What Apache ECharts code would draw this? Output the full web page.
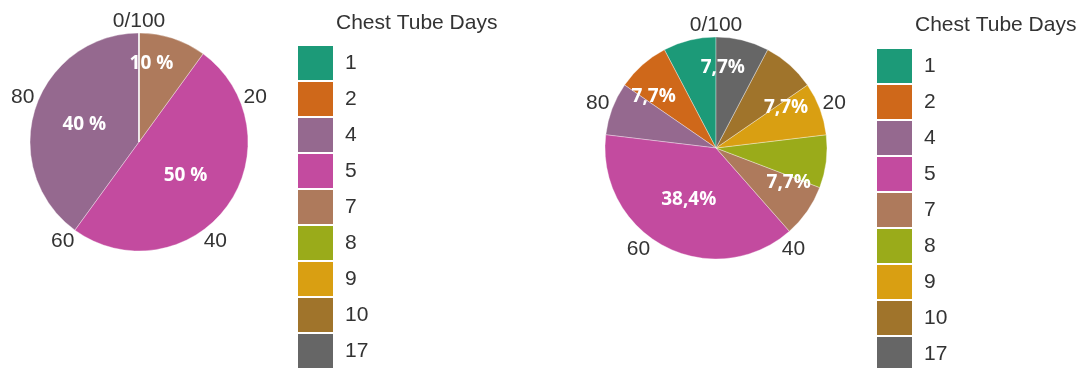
<!DOCTYPE html>
<html>
<head>
<meta charset="utf-8">
<title>Chest Tube Days</title>
<script src="https://cdn.jsdelivr.net/npm/echarts@6/dist/echarts.min.js"></script>
<style>
  html, body { margin: 0; padding: 0; background: #ffffff; }
  #chart { width: 1091px; height: 368px; }
</style>
</head>
<body>
<div id="chart"></div>
<script>
// Chest tube duration (days) categories and their share of patients (%)
const categories = ['1', '2', '4', '5', '7', '8', '9', '10', '17'];
const leftValues = [0, 0, 40, 50, 10, 0, 0, 0, 0];
const rightValues = [7.7, 7.7, 7.7, 38.4, 7.7, 7.7, 7.7, 7.7, 7.7];
// Categories whose slice carries a percentage label
const leftLabelled = ['4', '5', '7'];
const rightLabelled = ['17', '9', '7', '5', '2'];
// Percentage ticks around each pie
const tickValues = [0, 20, 40, 60, 80, 100];
const legendTitle = 'Chest Tube Days';

const colors = ['#1c9a78', '#cf681a', '#95698f', '#c34b9f', '#ae7a5c',
                '#9aab1a', '#d99f12', '#a0742b', '#666666'];

const textFont = '"Liberation Sans", Arial, sans-serif';
const valueFont = '"Open Sans", "DejaVu Sans", sans-serif';

const pies = [
  { values: leftValues, labelled: leftLabelled, center: [139, 142], r: 109,
    fmt: v => v + ' %' },
  { values: rightValues, labelled: rightLabelled, center: [716, 148], r: 111,
    fmt: v => String(v).replace('.', ',') + '%' }
];

const valueLabel = {
  color: '#ffffff', fontFamily: valueFont, fontWeight: 'bold', fontSize: 19
};

function sliceData(p, inner) {
  return categories.map((c, i) => {
    const v = p.values[i];
    const big = v >= 20;
    const show = p.labelled.includes(c) && (inner ? big : !big);
    return {
      name: c,
      value: v,
      itemStyle: inner ? { color: colors[i] } : { color: 'rgba(0,0,0,0)', borderWidth: 0 },
      label: { show: show }
    };
  });
}

const series = [];
// slices, with labels of the large slices halfway out
pies.forEach(p => {
  series.push({
    type: 'pie',
    center: p.center,
    radius: [0, p.r],
    startAngle: 90,
    clockwise: false,
    silent: true,
    animation: false,
    avoidLabelOverlap: false,
    itemStyle: { borderColor: 'rgba(255,255,255,0.35)', borderWidth: 1 },
    label: Object.assign({ position: 'inside', formatter: d => p.fmt(d.value) }, valueLabel),
    labelLine: { show: false },
    emphasis: { disabled: true },
    data: sliceData(p, true)
  });
});
// labels of the small slices, placed further towards the rim
pies.forEach(p => {
  series.push({
    type: 'pie',
    center: p.center,
    radius: [p.r * 0.4, p.r],
    startAngle: 99,
    clockwise: false,
    silent: true,
    animation: false,
    avoidLabelOverlap: false,
    legendHoverLink: false,
    label: Object.assign({ position: 'inside', formatter: d => p.fmt(d.value) }, valueLabel),
    labelLine: { show: false },
    emphasis: { disabled: true },
    data: sliceData(p, false)
  });
});

const tickFormatter = v => (v === tickValues[0] ? '0/100' : (v === tickValues[tickValues.length - 1] ? '' : String(v)));

const titleStyle = { fontFamily: textFont, fontSize: 21, fontWeight: 'normal', color: '#333333' };

const option = {
  animation: false,
  title: [
    { text: legendTitle, left: 336, top: 13, padding: 0, textStyle: titleStyle },
    { text: legendTitle, left: 915, top: 15, padding: 0, textStyle: titleStyle }
  ],
  legend: [
    { left: 298, top: 46 }, { left: 877, top: 49 }
  ].map(pos => ({
    left: pos.left, top: pos.top,
    width: 150, height: 400,
    padding: 0,
    orient: 'vertical',
    icon: 'rect',
    itemWidth: 35, itemHeight: 34, itemGap: 2,
    itemStyle: { borderWidth: 0 },
    selectedMode: false,
    data: categories,
    textStyle: { fontFamily: textFont, fontSize: 21, color: '#333333', padding: [0, 0, 0, 7] }
  })),
  polar: pies.map(p => ({ center: p.center, radius: [0, p.r] })),
  radiusAxis: pies.map((p, i) => ({ polarIndex: i, show: false, min: 0, max: 1 })),
  angleAxis: pies.map((p, i) => ({
    polarIndex: i,
    type: 'value',
    min: tickValues[0], max: tickValues[tickValues.length - 1], interval: 20,
    startAngle: 90, clockwise: true,
    axisLine: { show: false }, axisTick: { show: false }, splitLine: { show: false },
    axisLabel: { margin: 1, fontFamily: textFont, fontSize: 21, color: '#333333', formatter: tickFormatter }
  })),
  series: series
};

const chart = echarts.init(document.getElementById('chart'), null, { renderer: 'canvas' });
chart.setOption(option);
</script>
</body>
</html>
